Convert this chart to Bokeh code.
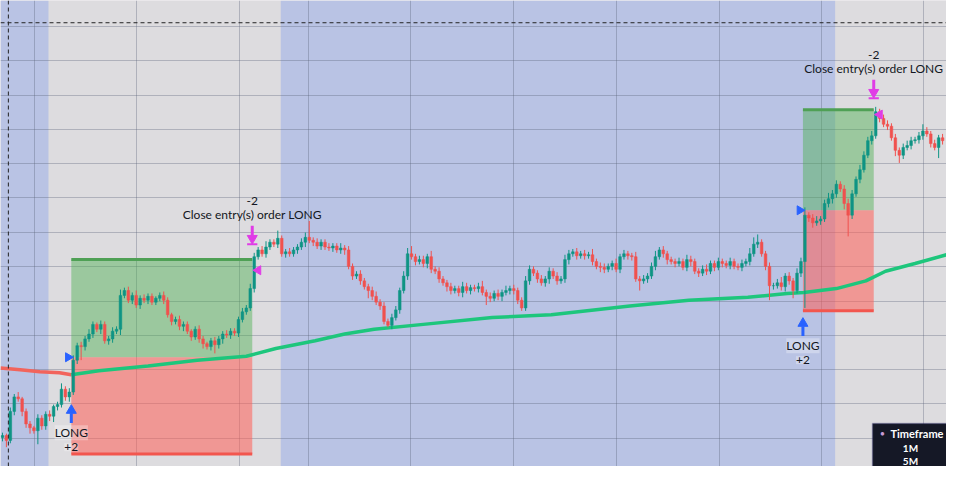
import math
from bokeh.plotting import figure
from bokeh.models import Range1d, FixedTicker, Span, BoxAnnotation, Label, ColumnDataSource
from bokeh.core.properties import value
from bokeh.embed import file_html
from bokeh.resources import INLINE

# ---------------- data (price units, bar index) ----------------
first_open = 30
closes = [
    32, 27, 57, 72, 70, 57, 44, 40, 37, 50,
    42, 54, 52, 62, 64, 80, 72, 77, 110, 125,
    124, 132, 137, 147, 142, 147, 130, 132, 140, 142,
    177, 182, 172, 177, 167, 174, 172, 176, 170, 174,
    177, 172, 157, 150, 152, 145, 147, 140, 134, 142,
    132, 127, 124, 130, 126, 132, 137, 136, 140, 138,
    152, 160, 164, 184, 217, 224, 220, 227, 232, 230,
    236, 220, 222, 220, 224, 227, 232, 237, 234, 232,
    228, 232, 227, 226, 228, 224, 226, 224, 207, 197,
    199, 192, 186, 182, 176, 170, 166, 150, 146, 154,
    162, 182, 197, 220, 217, 212, 214, 210, 217, 204,
    202, 194, 190, 186, 182, 184, 180, 186, 182, 185,
    184, 186, 180, 176, 174, 179, 176, 180, 182, 184,
    182, 172, 164, 192, 204, 200, 194, 190, 194, 202,
    197, 192, 194, 214, 220, 222, 218, 220, 218, 219,
    212, 207, 206, 204, 207, 210, 204, 217, 220, 218,
    217, 194, 192, 194, 197, 207, 217, 224, 220, 214,
    212, 210, 212, 206, 214, 212, 202, 200, 204, 202,
    210, 206, 212, 210, 208, 212, 207, 206, 210, 212,
    220, 230, 232, 220, 207, 187, 187, 190, 186, 197,
    192, 182, 200, 212, 260, 257, 252, 254, 256, 272,
    277, 282, 292, 287, 272, 260, 282, 297, 307, 322,
    337, 342, 367, 360, 354, 352, 340, 327, 322, 330,
    332, 337, 338, 342, 347, 344, 334, 330, 340, 337,
]
upper_wick = [
    3, 2, 4, 3, 5, 2, 3, 3, 2, 4, 3, 3, 4, 2, 3, 6, 3, 4, 5, 3,
    4, 3, 5, 3, 2, 4, 3, 3, 4, 3, 6, 3, 4, 3, 5, 3, 4, 3, 3, 2,
    3, 4, 3, 2, 3, 4, 3, 3, 2, 3, 4, 3, 2, 3, 4, 3, 3, 4, 3, 3,
    3, 4, 3, 5, 4, 3, 4, 6, 3, 3, 8, 3, 3, 4, 3, 3, 4, 5, 17, 3,
    4, 3, 3, 4, 3, 3, 5, 3, 4, 3, 3, 4, 3, 3, 4, 5, 3, 4, 3, 4,
    4, 3, 5, 6, 8, 3, 4, 4, 3, 6, 3, 4, 3, 3, 4, 3, 3, 5, 4, 3,
    3, 4, 6, 3, 4, 3, 4, 3, 5, 3, 4, 3, 3, 5, 4, 3, 3, 4, 3, 4,
    3, 4, 3, 5, 4, 3, 4, 3, 4, 3, 6, 3, 4, 4, 3, 3, 5, 3, 4, 3,
    3, 5, 3, 4, 3, 4, 6, 3, 4, 3, 3, 3, 4, 3, 5, 4, 3, 3, 4, 5,
    3, 3, 4, 3, 3, 4, 3, 3, 4, 3, 6, 7, 8, 3, 3, 4, 3, 4, 6, 3,
    4, 3, 5, 4, 8, 3, 4, 5, 3, 4, 6, 4, 4, 3, 4, 5, 4, 3, 5, 4,
    4, 5, 5, 3, 4, 4, 3, 4, 3, 4, 5, 4, 3, 4, 7, 4, 3, 4, 3, 4,
]
lower_wick = [
    4, 7, 3, 4, 3, 5, 4, 6, 3, 14, 4, 4, 5, 6, 4, 3, 4, 5, 3, 4,
    14, 4, 3, 4, 3, 5, 3, 4, 4, 3, 6, 3, 3, 4, 3, 4, 3, 4, 3, 3,
    3, 4, 3, 4, 3, 4, 5, 3, 4, 3, 4, 5, 3, 4, 9, 4, 5, 3, 4, 3,
    4, 3, 3, 3, 4, 3, 3, 4, 3, 3, 4, 3, 4, 3, 3, 4, 3, 5, 3, 4,
    3, 4, 3, 3, 4, 3, 4, 5, 3, 4, 3, 4, 3, 8, 4, 3, 4, 3, 2, 4,
    3, 4, 3, 4, 3, 4, 3, 4, 5, 4, 3, 4, 3, 5, 4, 3, 4, 5, 3, 4,
    3, 4, 3, 9, 4, 3, 4, 5, 3, 4, 4, 4, 3, 3, 4, 3, 4, 3, 4, 5,
    3, 4, 3, 4, 5, 3, 4, 3, 4, 3, 4, 3, 5, 4, 3, 4, 3, 4, 3, 4,
    4, 3, 10, 3, 4, 3, 4, 3, 4, 5, 3, 4, 3, 3, 4, 5, 3, 4, 3, 4,
    3, 4, 3, 4, 3, 4, 3, 3, 4, 3, 4, 3, 4, 3, 4, 15, 4, 3, 4, 5,
    4, 8, 3, 4, 48, 4, 5, 3, 4, 3, 4, 5, 4, 3, 6, 22, 4, 3, 4, 3,
    3, 4, 3, 4, 3, 4, 3, 6, 8, 4, 3, 4, 3, 4, 4, 3, 4, 3, 11, 4,
]

# moving average (sampled points)
ma_idx = [-0.5, 4.5, 9.5, 14.5, 17.5, 24.5, 37, 49.5, 62, 69.5, 79.5, 87, 94.5, 107,
          124.5, 139.5, 159.5, 174.5, 189.5, 199.5, 203.75, 212, 219.5, 224.5, 232, 240]
ma_val = [102, 100, 98, 97, 95, 99, 104, 110, 114, 122, 130, 137, 142, 147,
          154, 157, 166, 172, 175, 179, 180, 184, 192, 202, 210, 219]
ma_falling_points = 5

# sessions
session_edges = [-0.5, 11.75, 70.75, 211.75, 240]
session_kind = ["off", "on", "off", "on"]

# trades
entry_bar = [18, 204]
exit_bar = [64, 222]
entry_price = [113, 265]
exit_price = [203, 364]
target_price = [214, 369]
stop_price = [13, 161]
entry_text = ["LONG", "LONG"]
entry_qty = ["+2", "+2"]
exit_text = ["Close entry(s) order LONG", "Close entry(s) order LONG"]
exit_qty = ["-2", "-2"]

# grid levels
price_grid = [455, 420, 384, 349, 313, 278, 242, 207, 171, 136, 100, 65, 29]
time_grid = [8.25, 34, 60.25, 77.75, 103.75, 130, 156, 182.25, 208.25, 234.25]
crosshair_bar = 1.5
crosshair_price = 459

# ---------------- derived ----------------
n = len(closes)
idx = list(range(n))
opens = [first_open] + closes[:-1]
highs = [max(o, c) + u for o, c, u in zip(opens, closes, upper_wick)]
lows = [min(o, c) - l for o, c, l in zip(opens, closes, lower_wick)]
UP, DOWN = "#0f9484", "#f0514e"
colors = [UP if c >= o else DOWN for o, c in zip(opens, closes)]
src = ColumnDataSource(dict(x=idx, o=opens, c=closes, h=highs, l=lows, col=colors,
                            top=[max(o, c) for o, c in zip(opens, closes)],
                            bot=[min(o, c) for o, c in zip(opens, closes)]))

FONT_NAME = "Lato"
FONT = value(FONT_NAME)
p = figure(width=946, height=466, x_range=Range1d(-0.5, 240), y_range=Range1d(0, 482),
           output_backend="svg", toolbar_location=None, min_border=0,
           background_fill_color="#dddcdf", border_fill_color="white", outline_line_color=None)
p.axis.visible = False
p.xgrid.ticker = FixedTicker(ticks=time_grid)
p.ygrid.ticker = FixedTicker(ticks=price_grid)
p.grid.grid_line_color = "#5a6078"
p.grid.grid_line_alpha = 0.35
p.grid.grid_line_width = 1

# session backgrounds
sess_col = {"off": "#b9c3e4", "on": "#dddcdf"}
p.quad(left=session_edges[:-1], right=session_edges[1:], bottom=0, top=482,
       color=[sess_col[k] for k in session_kind], line_color=None, level="image")

# position boxes
lefts = [b - 0.5 for b in entry_bar]
rights = [b - 0.5 for b in exit_bar]
p.quad(left=lefts, right=rights, bottom=entry_price, top=target_price,
       fill_color="#4caf50", fill_alpha=0.45, line_color=None)
p.quad(left=lefts, right=rights, bottom=stop_price, top=entry_price,
       fill_color="#ff5f55", fill_alpha=0.55, line_color=None)
p.segment(x0=lefts, y0=target_price, x1=rights, y1=target_price, line_color="#4fa055", line_width=3)
p.segment(x0=lefts, y0=stop_price, x1=rights, y1=stop_price, line_color="#f2564e", line_width=3)

# moving average
p.line(ma_idx[:ma_falling_points], ma_val[:ma_falling_points], line_color="#f2645c", line_width=3.5)
p.line(ma_idx[ma_falling_points - 1:], ma_val[ma_falling_points - 1:], line_color="#1dc67c", line_width=3.5)

# candles
p.segment(x0="x", y0="h", x1="x", y1="l", line_color="col", line_width=1, source=src)
p.vbar(x="x", width=0.68, top="top", bottom="bot", fill_color="col", line_color="col",
       line_width=0.5, source=src)

# trade markers
BLUE, MAG = "#2962ff", "#e03ce6"
ax = lefts
tips = [lows[b] - 12 for b in entry_bar]
p.scatter(x=ax, y=[t - 4 for t in tips], marker="triangle", size=10, color=BLUE)
p.segment(x0=ax, y0=[t - 7 for t in tips], x1=ax, y1=[t - 17 for t in tips], line_color=BLUE, line_width=3)
p.text(x=ax, y=[t - 27 for t in tips], text=entry_text, text_align="center", text_baseline="middle",
       text_font=FONT, text_font_size="12px", text_color="#131722",
       background_fill_color="white", background_fill_alpha=0.3)
p.text(x=ax, y=[t - 42 for t in tips], text=entry_qty, text_align="center", text_baseline="middle",
       text_font=FONT, text_font_size="12px", text_color="#131722",
       background_fill_color="white", background_fill_alpha=0.3)
p.scatter(x=[b - 1.3 for b in entry_bar], y=entry_price, marker="triangle", angle=-math.pi / 2,
          size=9, color=BLUE)

ex = rights
bases = [highs[b] + 9 for b in exit_bar]
p.segment(x0=[x - 1.3 for x in ex], y0=bases, x1=[x + 1.3 for x in ex], y1=bases, line_color=MAG, line_width=2)
p.scatter(x=ex, y=[b + 6 for b in bases], marker="inverted_triangle", size=10, color=MAG)
p.segment(x0=ex, y0=[b + 9 for b in bases], x1=ex, y1=[b + 19 for b in bases], line_color=MAG, line_width=3)
p.text(x=ex, y=[b + 31 for b in bases], text=exit_text, text_align="center", text_baseline="middle",
       text_font=FONT, text_font_size="12px", text_color="#131722")
p.text(x=ex, y=[b + 45 for b in bases], text=exit_qty, text_align="center", text_baseline="middle",
       text_font=FONT, text_font_size="12px", text_color="#131722")
p.scatter(x=[b + 1.0 for b in exit_bar], y=exit_price, marker="triangle", angle=math.pi / 2,
          size=9, color=MAG)

# crosshair
p.add_layout(Span(location=crosshair_bar, dimension="height", line_color="#222222",
                  line_dash="4 3", line_width=1))
p.add_layout(Span(location=crosshair_price, dimension="width", line_color="#222222",
                  line_dash="4 3", line_width=1))

# timeframe panel
p.add_layout(BoxAnnotation(left=872, right=960, bottom=-6, top=43, left_units="screen",
                           right_units="screen", bottom_units="screen", top_units="screen",
                           fill_color="#151826", fill_alpha=1, line_color="#3b3482", line_width=1.5))
p.add_layout(Label(x=882, y=33, x_units="screen", y_units="screen", text="●", text_color="#c99bd6",
                   text_font_size="8px", text_baseline="middle", text_align="center"))
p.add_layout(Label(x=890, y=33, x_units="screen", y_units="screen", text="Timeframe",
                   text_color="white", text_font=FONT_NAME, text_font_style="bold",
                   text_font_size="11px", text_baseline="middle"))
p.add_layout(Label(x=910, y=19, x_units="screen", y_units="screen", text="1M",
                   text_color="white", text_font=FONT_NAME, text_font_style="bold",
                   text_font_size="10px", text_baseline="middle", text_align="center"))
p.add_layout(Label(x=910, y=6, x_units="screen", y_units="screen", text="5M",
                   text_color="white", text_font=FONT_NAME, text_font_style="bold",
                   text_font_size="10px", text_baseline="middle", text_align="center"))

open("out.html", "w").write(file_html(p, INLINE))
